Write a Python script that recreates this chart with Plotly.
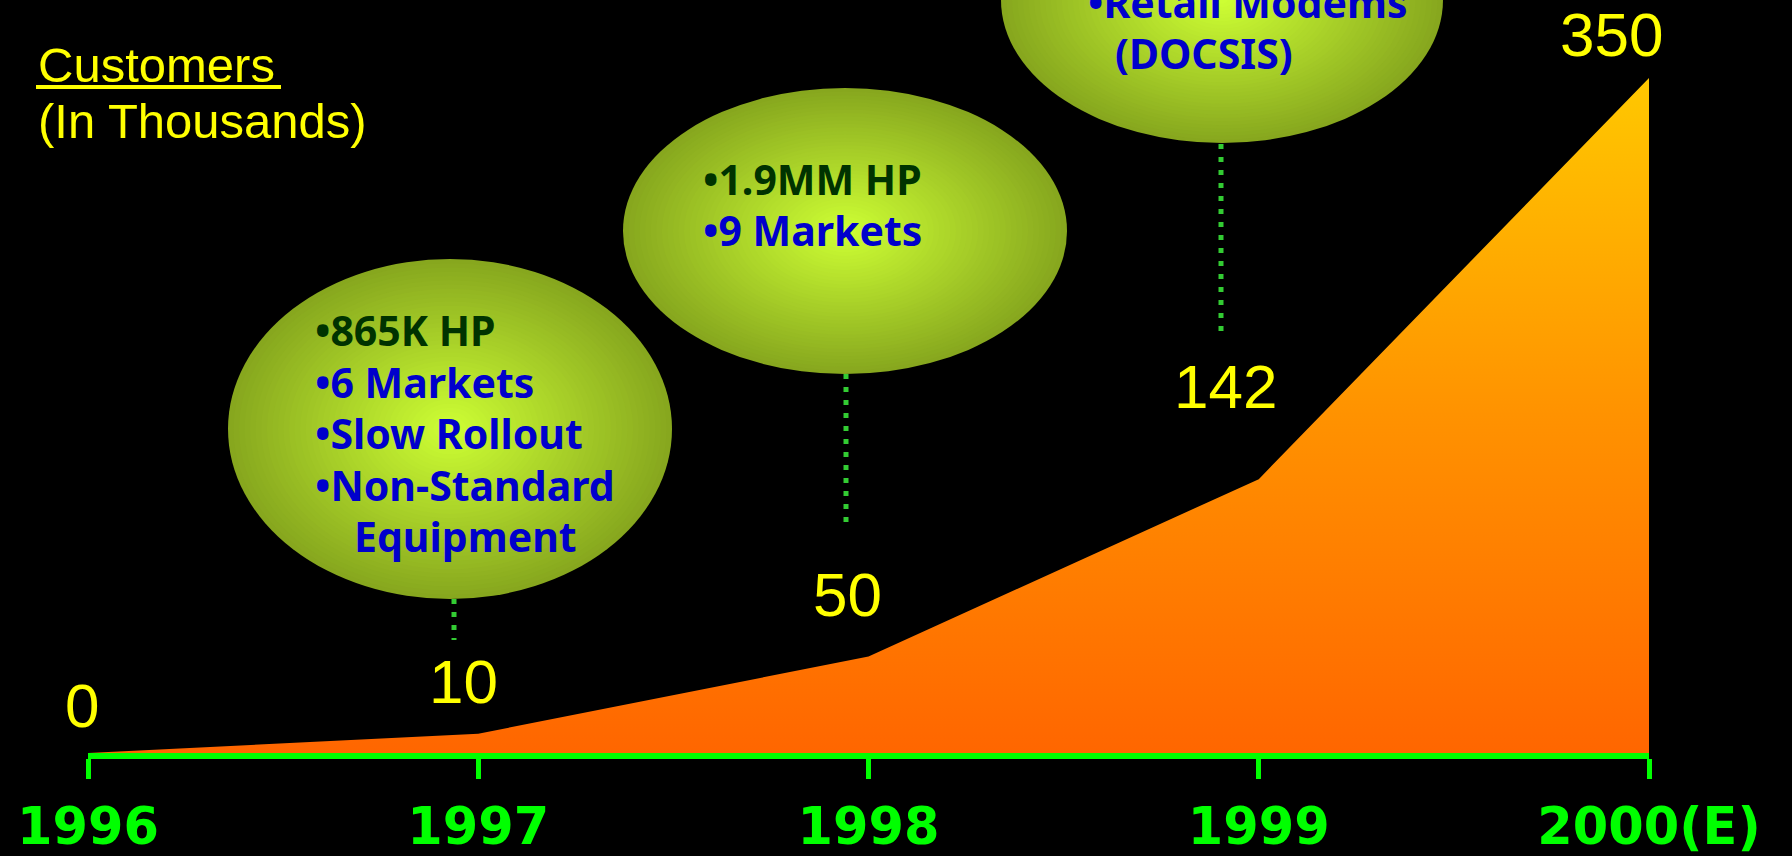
import plotly.graph_objects as go

# ---- data -------------------------------------------------------------
years = [1996, 1997, 1998, 1999, 2000]
customers = [0, 10, 50, 142, 350]          # thousands
year_labels = ["1996", "1997", "1998", "1999", "2000(E)"]
value_labels = ["0", "10", "50", "142", "350"]

notes_1997 = ["•865K HP", "•6 Markets", "•Slow Rollout", "•Non-Standard", "Equipment"]
notes_1998 = ["•1.9MM HP", "•9 Markets"]
notes_1999 = ["•Retail Modems", "(DOCSIS)"]

# ---- styling / layout constants --------------------------------------
W, H = 1792, 856
BG = "#000000"
YELLOW = "#FFFF00"
GREEN = "#00FF00"
DOT_GREEN = "#33CC33"
DARK = "#003300"
BLUE = "#0000CC"
BUBBLE_EDGE = (134, 166, 30)
BUBBLE_CENTER = (206, 255, 52)

AXIS_LEFT, AXIS_RIGHT, AXIS_Y, TOP_Y = 88, 1649, 753, 78


def px(x):
    return x / W


def py(y):
    return 1 - y / H


# label offsets (pixels) from each data point
label_shift = [(-6, 48), (-15, 52), (-21, 62), (-33, 93), (-38, 44)]

# callout bubbles: centre x, centre y, radius x, radius y (pixels)
bubbles = [
    (450, 429, 222, 170),
    (845, 231, 222, 143),
    (1222, 0, 221, 143),
]
# dotted connectors: x, y top, y bottom (pixels)
connectors = [(454, 599, 640), (846, 374, 528), (1221, 144, 331)]

# callout text: (text, colour, x left, y middle)
callout_lines = [
    (notes_1997[0], DARK, 313, 330),
    (notes_1997[1], BLUE, 313, 382),
    (notes_1997[2], BLUE, 313, 433),
    (notes_1997[3], BLUE, 313, 485),
    (notes_1997[4], BLUE, 352, 536),
    (notes_1998[0], DARK, 701, 179),
    (notes_1998[1], BLUE, 701, 230),
    (notes_1999[0], BLUE, 1086, 2),
    (notes_1999[1], BLUE, 1113, 53),
]

# ---- figure -------------------------------------------------------------
fig = go.Figure()

fig.add_trace(go.Scatter(
    x=years,
    y=customers,
    mode="lines",
    line=dict(width=0, color="rgba(0,0,0,0)"),
    fill="tozeroy",
    fillgradient=dict(
        type="vertical",
        colorscale=[[0, "#FF6600"], [0.5, "#FF9200"], [1, "#FFC800"]],
    ),
    hoverinfo="skip",
    showlegend=False,
))

shapes = []

# radial-gradient bubbles built from concentric ellipses
N = 40
for cx, cy, rx, ry in bubbles:
    for i in range(N):
        s = 1 - i / N
        f = s - 0.5 / N
        c = tuple(round(BUBBLE_CENTER[k] + (BUBBLE_EDGE[k] - BUBBLE_CENTER[k]) * f) for k in range(3))
        shapes.append(dict(
            type="circle", xref="paper", yref="paper",
            x0=px(cx - rx * s), x1=px(cx + rx * s),
            y0=py(cy + ry * s), y1=py(cy - ry * s),
            fillcolor="rgb(%d,%d,%d)" % c,
            line=dict(width=0),
            layer="above",
        ))

for x, y0, y1 in connectors:
    shapes.append(dict(
        type="line", xref="paper", yref="paper",
        x0=px(x), x1=px(x), y0=py(y0), y1=py(y1),
        line=dict(color=DOT_GREEN, width=5, dash="5px,8px"),
    ))

# underline for the heading
shapes.append(dict(
    type="line", xref="paper", yref="paper",
    x0=px(36), x1=px(281), y0=py(87), y1=py(87),
    line=dict(color=YELLOW, width=4),
))

annotations = []
for yr, v, txt, (dx, dy) in zip(years, customers, value_labels, label_shift):
    annotations.append(dict(
        x=yr, y=v, xref="x", yref="y", text=txt, showarrow=False,
        xshift=dx, yshift=dy, xanchor="center", yanchor="middle",
        font=dict(family="Liberation Sans", size=62, color=YELLOW),
    ))

for txt, col, x, y in callout_lines:
    annotations.append(dict(
        x=px(x), y=py(y), xref="paper", yref="paper", text=txt,
        showarrow=False, xanchor="left", yanchor="middle",
        font=dict(family="Noto Sans", size=41, color=col, weight="bold"),
    ))

annotations.append(dict(
    x=px(36), y=py(65), xref="paper", yref="paper", text="Customers",
    showarrow=False, xanchor="left", yanchor="middle",
    font=dict(family="Liberation Sans", size=49, color=YELLOW),
))
annotations.append(dict(
    x=px(36), y=py(121), xref="paper", yref="paper", text="(In Thousands)",
    showarrow=False, xanchor="left", yanchor="middle",
    font=dict(family="Liberation Sans", size=49, color=YELLOW),
))

k = (AXIS_Y - TOP_Y) / max(customers)
fig.update_layout(
    template="none",
    width=W, height=H,
    margin=dict(l=0, r=0, t=0, b=0, pad=0),
    paper_bgcolor=BG, plot_bgcolor=BG,
    showlegend=False,
    hovermode=False,
    shapes=shapes,
    annotations=annotations,
    xaxis=dict(
        domain=[px(AXIS_LEFT), px(AXIS_RIGHT)],
        range=[years[0], years[-1]],
        tickvals=years, ticktext=year_labels,
        showline=True, linecolor=GREEN, linewidth=6,
        ticks="outside", ticklen=20, tickwidth=5, tickcolor=GREEN,
        showgrid=False, zeroline=False,
        tickfont=dict(family="DejaVu Sans", size=51, color=GREEN, weight="bold"),
        ticklabelstandoff=4,
        automargin=False,
    ),
    yaxis=dict(
        domain=[py(AXIS_Y), 1],
        range=[0, AXIS_Y / k],
        visible=False,
        showgrid=False, zeroline=False,
        automargin=False,
    ),
)

fig.write_html("out.html", config={"displayModeBar": False})
